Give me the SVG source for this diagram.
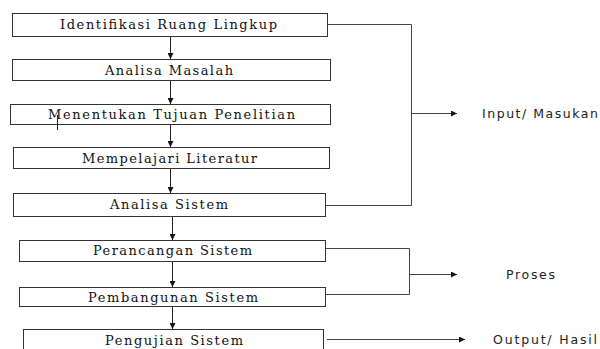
<svg xmlns="http://www.w3.org/2000/svg" width="600" height="349" viewBox="0 0 600 349">
<style>
.box{fill:#fff;stroke:#333;stroke-width:1}
.t{font-family:"DejaVu Serif","Liberation Serif",serif;font-size:13px;fill:#111;text-anchor:start}
.s{font-family:"DejaVu Sans","Open Sans",sans-serif;font-size:12.5px;fill:#222}
.c{fill:none;stroke:#222;stroke-width:1}
.g{fill:none;stroke:#444;stroke-width:1}
</style>
<defs>
<marker id="ah" viewBox="0 0 10 10" refX="10" refY="5" markerWidth="8" markerHeight="6" markerUnits="userSpaceOnUse" orient="auto">
<path d="M0,0 L10,5 L0,10 z" fill="#111"/>
</marker>
</defs>
<rect width="600" height="349" fill="#fff"/>
<g id="n1"><rect class="box" x="12.5" y="13.5" width="315" height="23"/><text class="t" x="60" y="28.5" textLength="217" lengthAdjust="spacing">Identifikasi Ruang Lingkup</text></g>
<g id="n2"><rect class="box" x="12.5" y="59.5" width="318" height="21"/><text class="t" x="105" y="74.5" textLength="128" lengthAdjust="spacing">Analisa Masalah</text></g>
<g id="n3"><rect class="box" x="10.5" y="104.5" width="320" height="20"/><text class="t" x="48" y="119" textLength="247" lengthAdjust="spacing">Menentukan Tujuan Penelitian</text><line class="c" x1="57.5" y1="115" x2="57.5" y2="130"/></g>
<g id="n4"><rect class="box" x="13.5" y="147.5" width="316" height="21"/><text class="t" x="82" y="162.5" textLength="175" lengthAdjust="spacing">Mempelajari Literatur</text></g>
<g id="n5"><rect class="box" x="13.5" y="193.5" width="312" height="23"/><text class="t" x="110" y="208.5" textLength="118" lengthAdjust="spacing">Analisa Sistem</text></g>
<g id="n6"><rect class="box" x="19.5" y="240.5" width="306" height="21"/><text class="t" x="93" y="254.5" textLength="159" lengthAdjust="spacing">Perancangan Sistem</text></g>
<g id="n7"><rect class="box" x="19.5" y="287.5" width="306" height="19"/><text class="t" x="88" y="301.5" textLength="170" lengthAdjust="spacing">Pembangunan Sistem</text></g>
<g id="n8"><rect class="box" x="23.5" y="329.5" width="300" height="25"/><text class="t" x="105" y="344.5" textLength="138" lengthAdjust="spacing">Pengujian Sistem</text></g>
<g id="connectors">
<line class="c" x1="170.5" y1="37" x2="170.5" y2="59" marker-end="url(#ah)"/>
<line class="c" x1="170.5" y1="81" x2="170.5" y2="104" marker-end="url(#ah)"/>
<line class="c" x1="170.5" y1="125" x2="170.5" y2="147" marker-end="url(#ah)"/>
<line class="c" x1="170.5" y1="169" x2="170.5" y2="193" marker-end="url(#ah)"/>
<line class="c" x1="172.5" y1="217" x2="172.5" y2="240" marker-end="url(#ah)"/>
<line class="c" x1="172.5" y1="262" x2="172.5" y2="287" marker-end="url(#ah)"/>
<line class="c" x1="172.5" y1="307" x2="172.5" y2="329" marker-end="url(#ah)"/>
<polyline class="g" points="328,24.5 411.5,24.5 411.5,205.5 326,205.5"/>
<line class="g" x1="411.5" y1="113.5" x2="457" y2="113.5" marker-end="url(#ah)"/>
<polyline class="g" points="326,248.5 409.5,248.5 409.5,294.5 326,294.5"/>
<line class="g" x1="409.5" y1="274.5" x2="457" y2="274.5" marker-end="url(#ah)"/>
<line class="g" x1="327" y1="339.5" x2="465" y2="339.5" marker-end="url(#ah)"/>
</g>
<text class="s" x="482" y="117.5" textLength="116" lengthAdjust="spacing">Input/ Masukan</text>
<text class="s" x="506" y="278.5" textLength="49" lengthAdjust="spacing">Proses</text>
<text class="s" x="493" y="343.5" textLength="104" lengthAdjust="spacing">Output/ Hasil</text>
</svg>
